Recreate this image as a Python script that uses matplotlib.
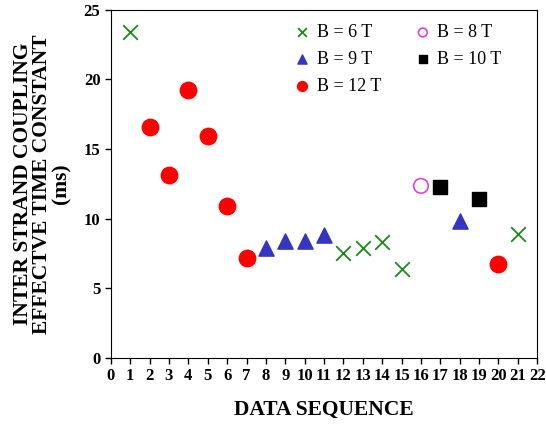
import matplotlib.pyplot as plt

# Data
seq_6T = [1, 12, 13, 14, 15, 21]
tau_6T = [23.4, 7.5, 7.9, 8.3, 6.4, 8.9]

seq_8T = [16]
tau_8T = [12.35]

seq_9T = [8, 9, 10, 11, 18]
tau_9T = [7.9, 8.4, 8.4, 8.8, 9.8]

seq_10T = [17, 19]
tau_10T = [12.3, 11.4]

seq_12T = [2, 3, 4, 5, 6, 7, 20]
tau_12T = [16.6, 13.1, 19.25, 15.9, 10.9, 7.2, 6.75]

plt.rcParams['font.family'] = ['Liberation Serif', 'DejaVu Serif']

fig = plt.figure(figsize=(5.46, 4.24), dpi=100)
ax = fig.add_axes([0.203, 0.156, 0.781, 0.821])

h6 = ax.scatter(seq_6T, tau_6T, marker='x', s=110, color='#1a8a1a', linewidths=1.3, label='B = 6 T')
h8 = ax.scatter(seq_8T, tau_8T, marker='o', s=110, facecolors='none', edgecolors='#e040e0', linewidths=1.2, label='B = 8 T')
h9 = ax.scatter(seq_9T, tau_9T, marker='^', s=120, color='#3535c0', label='B = 9 T')
h10 = ax.scatter(seq_10T, tau_10T, marker='s', s=110, color='black', label='B = 10 T')
h12 = ax.scatter(seq_12T, tau_12T, marker='o', s=140, color='#ff0000', label='B = 12 T')

ax.set_xlim(0, 22)
ax.set_ylim(0, 25)
ax.set_xticks(range(0, 23))
ax.set_yticks(range(0, 26, 5))
ax.tick_params(direction='out', length=4, width=1, labelsize=12)
for lbl in ax.get_xticklabels() + ax.get_yticklabels():
    lbl.set_fontweight('bold')

ax.set_xlabel('DATA SEQUENCE', fontsize=15.5, fontweight='bold', labelpad=11)
ax.set_ylabel('INTER STRAND COUPLING\nEFFECTVE TIME CONSTANT\n(ms)', fontsize=15.5,
              fontweight='bold', labelpad=9, linespacing=0.95)

# row-wise order: 6T, 8T / 9T, 10T / 12T
handles = [h6, h9, h12, h8, h10]
ax.legend(handles, [h.get_label() for h in handles], loc='upper right', ncol=2,
          frameon=False, fontsize=13, handletextpad=-0.2, columnspacing=1.3,
          markerscale=0.6, borderaxespad=0.4, labelspacing=0.55,
          bbox_to_anchor=(0.95, 1.0))

fig.savefig('out.png', dpi=100)
